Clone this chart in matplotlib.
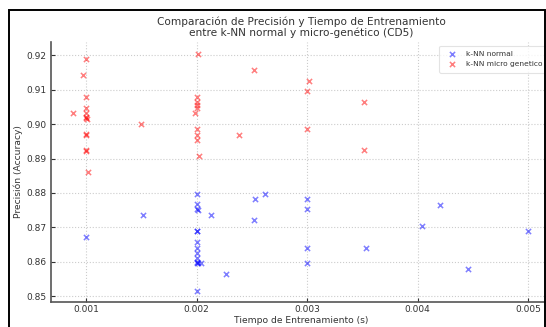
import matplotlib
matplotlib.use("Agg")
from matplotlib import pyplot as plt
from matplotlib.patches import Rectangle

# k-NN normal: tiempo (s) y precision
t_knn = [0.001, 0.00152, 0.002, 0.002, 0.002, 0.00201, 0.002, 0.002, 0.002, 0.002,
         0.002, 0.002, 0.002, 0.002, 0.00201, 0.00204, 0.002, 0.00213, 0.00227, 0.00253,
         0.00252, 0.00262, 0.003, 0.003, 0.003, 0.003, 0.00353, 0.00404, 0.0042, 0.00446,
         0.005]
acc_knn = [0.8672, 0.8735, 0.8797, 0.8767, 0.8752, 0.8750, 0.8689, 0.8688, 0.8658, 0.8641,
           0.8626, 0.8612, 0.8599, 0.8595, 0.8595, 0.8595, 0.8516, 0.8735, 0.8563, 0.8782,
           0.8720, 0.8798, 0.8782, 0.8752, 0.8641, 0.8595, 0.8641, 0.8703, 0.8766, 0.8579,
           0.8688]

# k-NN micro genetico
t_gen = [0.001, 0.00097, 0.001, 0.001, 0.00088, 0.001, 0.001, 0.001, 0.00101, 0.001,
         0.001, 0.001, 0.001, 0.00102, 0.0015, 0.00201, 0.002, 0.002, 0.002, 0.002,
         0.00199, 0.002, 0.002, 0.002, 0.00202, 0.00238, 0.00252, 0.00302, 0.003, 0.003,
         0.00352, 0.00352]
acc_gen = [0.9189, 0.9143, 0.9080, 0.9048, 0.9033, 0.9033, 0.9021, 0.9017, 0.9015, 0.8971,
           0.8970, 0.8924, 0.8923, 0.8860, 0.9000, 0.9204, 0.9080, 0.9065, 0.9055, 0.9048,
           0.9033, 0.8986, 0.8970, 0.8955, 0.8908, 0.8970, 0.9157, 0.9126, 0.9096, 0.8986,
           0.9064, 0.8924]

txt = '#333333'
fig = plt.figure(figsize=(5.46, 3.27), dpi=100)
ax = fig.add_axes([51/546, 25/327, 500/546, 260/327])

ax.scatter(t_knn, acc_knn, marker='x', color='blue', alpha=0.5, s=14, linewidths=1.1, label='k-NN normal')
ax.scatter(t_gen, acc_gen, marker='x', color='red', alpha=0.5, s=14, linewidths=1.1, label='k-NN micro genetico')

ax.set_xlim(0.000683, 0.005208)
ax.set_ylim(0.8483, 0.9239)
ax.set_xticks([0.001, 0.002, 0.003, 0.004, 0.005])
ax.set_yticks([0.85, 0.86, 0.87, 0.88, 0.89, 0.90, 0.91, 0.92])
ax.grid(True, linestyle=':', color='#cccccc', linewidth=0.8)
ax.set_axisbelow(True)
for s in ['top', 'right']:
    ax.spines[s].set_visible(False)
for s in ['left', 'bottom']:
    ax.spines[s].set_color('#555555')
    ax.spines[s].set_linewidth(1.2)
ax.tick_params(direction='in', labelsize=6.5, colors=txt, length=3)
ax.tick_params(axis='x', pad=2.5)

ax.set_title('Comparación de Precisión y Tiempo de Entrenamiento\nentre k-NN normal y micro-genético (CD5)',
             fontsize=7.6, color=txt, pad=4, linespacing=1.15)
ax.set_xlabel('Tiempo de Entrenamiento (s)', fontsize=6.6, color=txt, labelpad=1)
ax.set_ylabel('Precisión (Accuracy)', fontsize=6.6, color=txt, labelpad=2)

leg = ax.legend(loc='upper right', fontsize=5.4, frameon=True, borderpad=0.7, labelspacing=0.5)
leg.get_frame().set_edgecolor('#dddddd')
leg.get_frame().set_linewidth(0.8)
for t in leg.get_texts():
    t.set_color(txt)

# marco negro de la captura
fig.patches.append(Rectangle((9/546, -0.05), 536/546, 1.05 - 10/327, transform=fig.transFigure,
                             fill=False, edgecolor='black', linewidth=1.4, zorder=10))

fig.savefig('out.png', dpi=100)
